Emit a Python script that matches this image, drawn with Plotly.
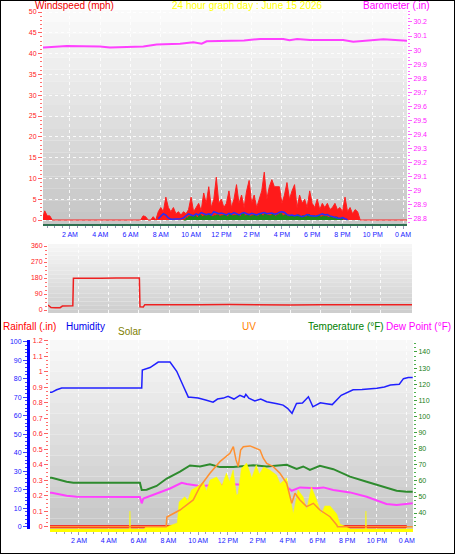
import numpy as np
import plotly.graph_objects as go

W, H = 455, 554

# ---------- данные ----------
# порывы ветра, миль/ч, шаг 10 минут с 0:00
gust_mph = [
    0, 0, 2.2, 1, 1, 0,
    0, 0, 0, 0, 0, 0,
    0, 0, 0, 0, 0, 0,
    0, 0, 0, 0, 0, 0,
    0, 0, 0, 0, 0, 0,
    0, 0, 0, 0, 0, 0,
    0, 0, 0, 0, 0, 1,
    0.8, 0, 0, 0.8, 0, 2,
    3, 2, 5.5, 3, 2, 3,
    1.5, 2, 1.2, 2, 1.5, 2.5,
    5.5, 2, 3, 4, 2.2, 6.5,
    4, 8, 3, 5, 10.3, 4,
    5, 3, 4, 7, 3, 5,
    8.5, 4, 6, 3, 7, 9.5,
    4, 6, 3, 5, 7, 11.5,
    5, 8, 9.7, 8, 8, 8,
    4, 6, 9, 5, 7, 8.5,
    3, 6, 4, 5, 3, 7,
    4, 3, 5, 2.5, 4, 3,
    4, 2.5, 3, 4, 2.5, 3,
    2, 5.5, 2, 3, 1.5, 2.5,
    2, 0, 0, 0, 0, 0,
    0, 0, 0, 0, 0, 0,
    0, 0, 0, 0, 0, 0,
    0, 0,
]
gust_hours = list(np.arange(145) / 6) + [24.3]

# средний ветер с 7:50
avg_start = 7 + 5 / 6
avg_mph = [0.3,
           0.8, 1.5, 1.2, 0.5, 0.2, 0.2,
           0.3, 0.2, 0.3, 0.5, 1, 1.5,
           1.2, 1, 1.5, 1.2, 1.8, 1.5,
           1.3, 1.5, 1.2, 2, 1.8, 1.5,
           1.7, 1.5, 1.2, 1.6, 1.4, 1.8,
           1.5, 1.2, 1.6, 1.8, 1.5, 1.3,
           1.6, 1.4, 1.2, 1.5, 1.6, 1.8,
           1.5, 1.6, 1.7, 1.4, 1.5, 1.9,
           2.0, 1.8, 1.3, 1.1, 1.2, 1.0,
           1.2, 1.0, 0.8, 1.0, 1.3, 1.1,
           1.0, 0.9, 1.0, 1.2, 1.5, 1.2,
           1.3, 1.0, 0.8, 0.6, 0.5, 0.4,
           0.6, 0.3, 0.1]
avg_hours = list(avg_start + np.arange(len(avg_mph)) / 6)

# скорость ветра с 9:30
speed_start = 9.5
speed_mph = [0, 0.5, 0.8,
             0.8, 1, 0.6, 1.2, 0.8, 1,
             1, 1.4, 0.8, 1, 1.2, 0.9,
             1, 1.2, 0.8, 1.3, 1, 1.1,
             1.2, 0.9, 1.5, 1, 1.1, 0.9,
             1, 1.2, 0.9, 1.3, 1, 1.4,
             1.1, 1, 1.3, 0.9, 1.2, 1.5,
             1, 1.2, 0.8, 1.1, 1, 0.9,
             1.2, 0.8, 1, 0.7, 1.3, 0.9,
             1, 0.8, 1.1, 0.7, 0.9, 0.8,
             0.6, 0.8, 0.5, 0.7, 0.4, 0.3,
             0]
speed_hours = list(speed_start + np.arange(len(speed_mph)) / 6)

baro_hours = [0, 0.28, 1.78, 3.98, 4.64, 6.17, 6.85, 7.73, 9.27, 10.15, 10.7,
              11.03, 12.79, 13.5, 14.55, 16.09, 16.5, 17.0, 17.85, 20.05,
              20.71, 21.6, 22.7, 24.3]
baro_in = [30.018, 30.018, 30.03, 30.025, 30.018, 30.02, 30.025, 30.04, 30.046,
           30.056, 30.046, 30.063, 30.07, 30.068, 30.079, 30.079, 30.07, 30.079,
           30.072, 30.072, 30.06, 30.068, 30.077, 30.066]

dir_hours = [0, 0.2, 0.5, 0.8, 0.95, 1.2, 1.5, 1.64, 1.68, 2.5, 3.5, 4.5, 5.5,
             6.04, 6.08, 6.3, 6.4, 8, 10, 12, 14, 16, 18, 20, 22, 24.1]
dir_deg = [28, 14, 12, 13, 22, 24, 23, 24, 178, 180, 179, 180, 179,
           180, 18, 17, 30, 29, 30, 31, 29, 28, 30, 29, 29, 29]

hum_hours = [0, 0.17, 0.5, 0.84, 6.21, 6.25, 6.77, 7.32, 8.11, 8.56, 9.0, 9.34,
             9.5, 10.0, 10.5, 11.0, 11.3, 11.7, 12.0, 12.4, 12.8, 13.1, 13.2,
             13.4, 13.8, 14.2, 14.6, 15.0, 15.3, 15.7, 16.0, 16.3, 16.6, 17.0,
             17.4, 17.7, 18.0, 18.2, 18.6, 19.0, 19.6, 20.2, 20.4, 21.0, 21.6,
             22.0, 22.5, 22.9, 23.5, 23.78, 24.1, 24.4]
hum_pct = [72.6, 72.6, 74, 75, 75, 84.7, 86, 89, 89, 84, 76, 70,
           70, 69.5, 68.5, 67.3, 69, 69.5, 70.5, 69, 71, 70, 71.5,
           69.5, 68, 69, 67.5, 67, 66.5, 65.7, 64, 61.3, 66.6, 66.8,
           70.2, 64.8, 66, 67, 66.5, 66, 71, 73.3, 74, 74.2, 74.5,
           74.8, 75.5, 76.6, 77, 80, 80.6, 80.6]

temp_hours = [0, 0.17, 1.17, 1.62, 6.09, 6.21, 6.54, 7.21, 7.89, 8.78, 9.45,
              10.12, 10.79, 11.46, 12.36, 13.7, 14.6, 15.94, 16.61, 17.05,
              17.5, 18.17, 19.07, 20.19, 21.31, 22.42, 23.32, 23.99, 24.4]
temp_f = [61.9, 61.9, 59.4, 58.8, 58.8, 54.3, 54.5, 56.8, 61.4, 65.7, 69.5,
          68.9, 70.3, 68.5, 68.5, 69.7, 68.9, 69.9, 67.4, 68.9,
          66.8, 69.3, 67.2, 62.6, 59.4, 56.3, 53.8, 53.2, 53.2]

dew_hours = [0, 0.17, 1.17, 1.84, 6.09, 6.21, 6.32, 7.21, 8.11, 8.89, 9.23,
             10.12, 11.24, 12.36, 14.6, 15.94, 16.28, 16.83, 17.95, 18.4,
             19.07, 20.19, 21.31, 22.64, 23.32, 24.1, 24.4]
dew_f = [52.6, 52.6, 50.7, 50.1, 50, 46, 49, 52, 55.2, 58.8, 58,
         56.7, 57.3, 57.8, 56.7, 56.3, 53.8, 55.9, 55.3, 55.9,
         54.3, 52.8, 50.1, 45.6, 45, 46, 46]

rain_hours = list(range(25))
rain_in = [0] * 25

solar_hours = [0, 5.38, 5.42, 5.46, 6.4, 6.45, 7.9, 8.6, 8.72, 9.1, 9.3, 9.55,
               9.9, 10.35, 10.55, 10.8, 11.24, 11.6, 11.9, 12.1, 12.35, 12.57,
               12.68, 12.9, 13.25, 13.6, 13.9, 14.1, 14.4, 14.8, 15.26, 15.5,
               15.94, 16.16, 16.38, 16.7, 17.05, 17.28, 17.6, 17.95, 18.28,
               18.5, 18.85, 19.3, 19.52, 19.97, 20.2, 21.22, 21.26, 21.3, 24.4]
solar_wm2 = [0, 0, 95, 0, 0, 10, 12, 32, 143, 170, 150, 206,
             222, 249, 200, 259, 275, 230, 296, 250, 312, 180,
             185, 320, 349, 270, 339, 290, 328, 312, 286, 240,
             270, 169, 79, 206, 169, 100, 222, 153, 79,
             122, 122, 79, 26, 10, 0, 0, 95, 0, 0]

uv_hours = [0, 7.85, 7.9, 8.78, 9.67, 10.12, 10.79, 11.46, 12.13, 12.36, 12.54,
            12.69, 12.85, 13.03, 13.48, 13.93, 14.15, 14.37, 14.6, 15.04,
            15.49, 15.94, 16.28, 16.5, 16.83, 17.28, 17.73, 18.17, 18.85,
            19.3, 19.35, 24.4]
uv_idx = [0, 0, 0.62, 1.07, 1.72, 2.57, 3.43, 4.18, 4.72, 5.14, 4.29,
          3.86, 4.93, 5.14, 5.19, 5.04, 4.93, 4.4, 4.07, 3.86,
          3.43, 2.79, 1.5, 2.15, 1.72, 1.29, 1.5, 1.07, 0.64,
          0.11, 0, 0]

time_ticks = list(range(2, 25, 2))
time_labels = ["2 AM", "4 AM", "6 AM", "8 AM", "10 AM", "12 PM", "2 PM",
               "4 PM", "6 PM", "8 PM", "10 PM", "0 AM"]


def fx(px):
    return px / W


def fy(py):
    return 1 - py / H


FONT = "Liberation Sans, Arial, sans-serif"

fig = go.Figure()

# --- верхняя панель: ветер и давление ---
fig.add_trace(go.Scatter(x=gust_hours, y=gust_mph, mode="lines",
                         line=dict(color="#ff2020", width=1), fill="tozeroy",
                         fillcolor="#ff1a1a", xaxis="x", yaxis="y"))
fig.add_trace(go.Scatter(x=speed_hours, y=speed_mph, mode="lines", line_shape="hv",
                         line=dict(color="#1a8a1a", width=1), fill="tozeroy",
                         fillcolor="#1a8a1a", xaxis="x", yaxis="y"))
fig.add_trace(go.Scatter(x=avg_hours, y=avg_mph, mode="lines",
                         line=dict(color="#2030ff", width=1.5), xaxis="x", yaxis="y"))
fig.add_trace(go.Scatter(x=baro_hours, y=baro_in, mode="lines",
                         line=dict(color="#ff40ff", width=2), xaxis="x", yaxis="y2"))

# --- направление ветра ---
fig.add_trace(go.Scatter(x=dir_hours, y=dir_deg, mode="lines",
                         line=dict(color="#ee2020", width=1.5), xaxis="x2", yaxis="y3"))

# --- нижняя панель ---
fig.add_trace(go.Scatter(x=solar_hours, y=solar_wm2, mode="lines",
                         line=dict(color="#ffff00", width=0.5), fill="tozeroy",
                         fillcolor="#ffff00", xaxis="x3", yaxis="y8"))
fig.add_trace(go.Scatter(x=uv_hours, y=uv_idx, mode="lines",
                         line=dict(color="#ff9030", width=1.5), xaxis="x3", yaxis="y9"))
fig.add_trace(go.Scatter(x=temp_hours, y=temp_f, mode="lines",
                         line=dict(color="#2e8b2e", width=2), xaxis="x3", yaxis="y7"))
fig.add_trace(go.Scatter(x=dew_hours, y=dew_f, mode="lines",
                         line=dict(color="#ff40ff", width=2), xaxis="x3", yaxis="y7"))
fig.add_trace(go.Scatter(x=hum_hours, y=hum_pct, mode="lines",
                         line=dict(color="#2020ff", width=1.5), xaxis="x3", yaxis="y5"))
fig.add_trace(go.Scatter(x=rain_hours, y=rain_in, mode="lines",
                         line=dict(color="#ff0000", width=3), xaxis="x3", yaxis="y6"))

tickf = dict(family=FONT, size=7)
grid = dict(showgrid=True, gridcolor="rgba(255,255,255,0.85)", griddash="dot", gridwidth=1)
xminor = dict(dtick=0.5, tick0=0, ticks="outside", ticklen=2, tickcolor="#9a9ab8")

fig.update_layout(
    width=W, height=H, margin=dict(l=0, r=0, t=0, b=0, autoexpand=False),
    paper_bgcolor="white", plot_bgcolor="rgba(0,0,0,0)", showlegend=False,
    xaxis=dict(domain=[fx(43), fx(407)], range=[0.22, 24.26], anchor="y",
               tickvals=time_ticks, ticktext=time_labels,
               tickfont=dict(family=FONT, size=7, color="#2020ff"),
               ticks="outside", ticklen=3, tickcolor="#9a9ab8", minor=xminor,
               showline=True, linecolor="#2f6f50", linewidth=2, zeroline=False, **grid),
    yaxis=dict(domain=[fy(224), fy(10)], range=[-0.96, 50.48], anchor="x",
               dtick=5, tick0=0, tickfont=dict(tickf, color="#ff2020"),
               ticks="outside", ticklen=4, tickcolor="#ff6060",
               minor=dict(dtick=1, ticks="outside", ticklen=2, tickcolor="#ff7070"),
               zeroline=False, **grid),
    yaxis2=dict(range=[28.764, 30.285], overlaying="y", side="right", anchor="x",
                tickvals=[28.8, 28.9, 29.0, 29.1, 29.2, 29.3, 29.4, 29.5, 29.6, 29.7,
                          29.8, 29.9, 30.0, 30.1, 30.2],
                ticktext=["28.8", "28.9", "29", "29.1", "29.2", "29.3", "29.4", "29.5",
                          "29.6", "29.7", "29.8", "29.9", "30", "30.1", "30.2"],
                tickfont=dict(tickf, color="#ff20ff"),
                ticks="outside", ticklen=4, tickcolor="#ff60ff",
                minor=dict(dtick=0.025, tick0=28.8, ticks="outside", ticklen=2,
                           tickcolor="#ff70ff"),
                showgrid=False, zeroline=False),
    xaxis2=dict(domain=[fx(48), fx(412)], range=[0, 24.06], anchor="y3",
                tickvals=time_ticks, showticklabels=False, ticks="", zeroline=False,
                **grid),
    yaxis3=dict(domain=[fy(313), fy(244)], range=[-16.9, 371.25], anchor="x2",
                tickvals=[0, 90, 180, 270, 360], tickfont=dict(tickf, color="#ff2020"),
                ticks="outside", ticklen=3, tickcolor="#ff6060",
                minor=dict(dtick=22.5, ticks="outside", ticklen=2, tickcolor="#ff7070"),
                zeroline=False, showgrid=False),
    yaxis4=dict(range=[-16.9, 371.25], overlaying="y3", side="right", anchor="x2",
                tickvals=[0, 90, 180, 270, 360], ticktext=["S", "W", "N", "E", "S"],
                tickfont=dict(family=FONT, size=12, color="#ff0000"),
                ticks="", ticklabelstandoff=12, showgrid=False, zeroline=False),
    xaxis3=dict(domain=[fx(50), fx(413)], range=[0.054, 24.42], anchor="y5",
                tickvals=time_ticks, ticktext=time_labels,
                tickfont=dict(family=FONT, size=7, color="#2020ff"),
                ticks="outside", ticklen=3, tickcolor="#9a9ab8", minor=xminor,
                showline=True, linecolor="#ffff00", linewidth=3, zeroline=False, **grid),
    yaxis5=dict(domain=[fy(529), fy(340)], range=[-1.24, 100.9], anchor="free",
                position=fx(28), side="left", dtick=10, tick0=0,
                tickfont=dict(tickf, color="#2020ff"),
                showline=True, linecolor="#0000ff", linewidth=3,
                ticks="outside", ticklen=4, tickcolor="#4040ff",
                minor=dict(dtick=2, ticks="outside", ticklen=2, tickcolor="#4040ff"),
                zeroline=False, showgrid=False),
    yaxis6=dict(range=[-0.015, 1.205], overlaying="y5", anchor="free", position=fx(48),
                side="left",
                tickvals=[0, 0.1, 0.2, 0.3, 0.4, 0.5, 0.6, 0.7, 0.8, 0.9, 1.0, 1.1, 1.2],
                ticktext=["0", "0.1", "0.2", "0.3", "0.4", "0.5", "0.6", "0.7", "0.8",
                          "0.9", "1", "1.1", "1.2"],
                tickfont=dict(tickf, color="#ff2020"),
                ticks="outside", ticklen=4, tickcolor="#ff6060",
                minor=dict(dtick=0.025, tick0=0, ticks="outside", ticklen=2,
                           tickcolor="#ff7070"),
                zeroline=False, showgrid=False),
    yaxis7=dict(range=[30.06, 147.45], overlaying="y5", side="right", anchor="x3",
                tickvals=list(range(40, 141, 10)),
                tickfont=dict(tickf, color="#208020"),
                ticks="outside", ticklen=3, tickcolor="#40a040",
                minor=dict(dtick=2.5, tick0=30, ticks="outside", ticklen=2,
                           tickcolor="#50b050"),
                zeroline=False, showgrid=False),
    yaxis8=dict(range=[0, 1000], overlaying="y5", visible=False),
    yaxis9=dict(range=[-0.15, 12], overlaying="y5", visible=False),
)

# фон-градиент полосами
def bands(x0, x1, y0, y1, top, bot, n=18):
    out = []
    for i in range(n):
        t = i / (n - 1)
        g = int(round(top + (bot - top) * t))
        out.append(dict(type="rect", xref="paper", yref="paper", layer="below",
                        x0=fx(x0), x1=fx(x1),
                        y0=fy(y0 + (y1 - y0) * (i + 1) / n), y1=fy(y0 + (y1 - y0) * i / n),
                        line=dict(width=0), fillcolor=f"rgb({g},{g},{g})"))
    return out


shapes = []
shapes += bands(43, 407, 10, 224, 250, 198)
shapes += bands(48, 412, 244, 313, 246, 206)
shapes += bands(50, 413, 340, 529, 248, 198)
shapes.append(dict(type="rect", xref="paper", yref="paper", x0=0, x1=1, y0=0, y1=1,
                   line=dict(color="black", width=2)))
fig.update_layout(shapes=shapes)

labels = [
    ("Windspeed (mph)", 33, 5, "left", "#ee0000"),
    ("24 hour graph day : June 15 2026", 248, 5, "center", "#ffff00"),
    ("Barometer (.in)", 432, 5, "right", "#ff00ff"),
    ("Rainfall (.in)", 1, 326, "left", "#ff0000"),
    ("Humidity", 64, 326, "left", "#0000ee"),
    ("Solar", 116, 331, "left", "#808000"),
    ("UV", 240, 326, "left", "#ff8000"),
    ("Temperature (°F)", 306, 326, "left", "#008000"),
    ("Dew Point (°F)", 453, 326, "right", "#ff00ff"),
]
for text, x, y, anchor, color in labels:
    fig.add_annotation(text=text, x=fx(x), y=fy(y), xref="paper", yref="paper",
                       xanchor=anchor, yanchor="middle", showarrow=False,
                       font=dict(family=FONT, size=10, color=color))

# у body по умолчанию отступ 8px — убираем, чтобы картинка легла в окно
fig.write_html("out.html", config={"displayModeBar": False},
               post_script="document.body.style.margin='0';document.body.style.overflow='hidden';")
